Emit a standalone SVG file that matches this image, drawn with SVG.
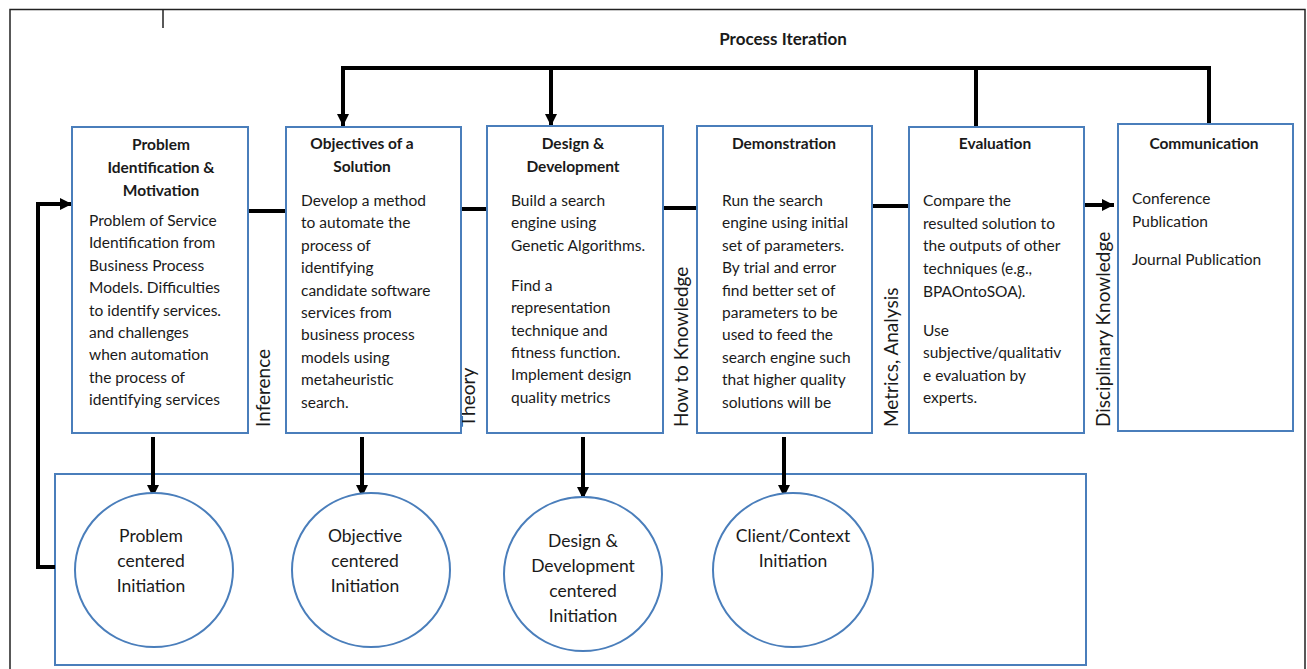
<svg xmlns="http://www.w3.org/2000/svg" width="1307" height="669" viewBox="0 0 1307 669">
  <style>
    .box { fill: #ffffff; stroke: #4a7ebb; stroke-width: 2; }
    .circ { fill: #ffffff; stroke: #4a7ebb; stroke-width: 2; }
    .frame { fill: none; stroke: #222222; stroke-width: 1.5; }
    .ln { fill: none; stroke: #000000; stroke-width: 4; }
    .t { font-family: Lato, "Open Sans", "Liberation Sans", sans-serif; font-size: 15.5px; fill: #1a1a1a; }
    .h { font-weight: bold; text-anchor: middle; }
    .c { font-size: 17.5px; text-anchor: middle; }
    .v { font-size: 19px; }
  </style>
  <defs>
    <marker id="ah" markerUnits="userSpaceOnUse" markerWidth="14" markerHeight="14" refX="12" refY="6" orient="auto">
      <path d="M0,0 L12,6 L0,12 Z" fill="#000000"/>
    </marker>
  </defs>

  <rect width="1307" height="669" fill="#ffffff"/>

  <!-- page frame -->
  <path class="frame" d="M10,669 V9.5 H1305 V669"/>
  <path class="frame" d="M163,9.5 V28"/>

  <!-- heading -->
  <text class="t h" x="783" y="45" style="font-size:17px">Process Iteration</text>

  <!-- bottom container -->
  <rect id="initiation-area" class="box" x="55" y="474" width="1031" height="191"/>

  <!-- connectors -->
  <g id="connectors">
    <path class="ln" d="M343,126 V68 H1209 V124"/>
    <path class="ln" d="M343,70 V126" marker-end="url(#ah)"/>
    <path class="ln" d="M551,68 V126" marker-end="url(#ah)"/>
    <path class="ln" d="M976,68 V126"/>
    <path class="ln" d="M248,211 H286"/>
    <path class="ln" d="M461,209 H487"/>
    <path class="ln" d="M663,208 H697"/>
    <path class="ln" d="M872,206 H909"/>
    <path class="ln" d="M1084,205 H1114" marker-end="url(#ah)"/>
    <path class="ln" d="M153,437 V497" marker-end="url(#ah)"/>
    <path class="ln" d="M362,437 V497" marker-end="url(#ah)"/>
    <path class="ln" d="M583,437 V499" marker-end="url(#ah)"/>
    <path class="ln" d="M784,437 V497" marker-end="url(#ah)"/>
    <path class="ln" d="M55,567 H38 V204 H72" marker-end="url(#ah)"/>
  </g>

  <!-- edge labels -->
  <g id="edge-labels">
    <text class="t v" transform="translate(270,427) rotate(-90)">Inference</text>
    <text class="t v" transform="translate(475,427) rotate(-90)">Theory</text>
    <text class="t v" transform="translate(688,427) rotate(-90)">How to Knowledge</text>
    <text class="t v" transform="translate(898,427) rotate(-90)">Metrics, Analysis</text>
    <text class="t v" transform="translate(1110,427) rotate(-90)">Disciplinary Knowledge</text>
  </g>

  <g id="problem-identification">
    <rect class="box" x="72" y="127" width="176" height="306"/>
    <text class="t h"><tspan x="161" y="150">Problem</tspan><tspan x="161" y="173">Identification &amp;</tspan><tspan x="161" y="196">Motivation</tspan></text>
    <text class="t">
      <tspan x="89" y="226">Problem of Service</tspan>
      <tspan x="89" y="248.4">Identification from</tspan>
      <tspan x="89" y="270.8">Business Process</tspan>
      <tspan x="89" y="293.2">Models. Difficulties</tspan>
      <tspan x="89" y="315.6">to identify services.</tspan>
      <tspan x="89" y="338">and challenges</tspan>
      <tspan x="89" y="360.4">when automation</tspan>
      <tspan x="89" y="382.8">the process of</tspan>
      <tspan x="89" y="405.2">identifying services</tspan>
    </text>
  </g>

  <g id="objectives">
    <rect class="box" x="286" y="127" width="175" height="306"/>
    <text class="t h"><tspan x="362" y="149">Objectives of a</tspan><tspan x="362" y="172">Solution</tspan></text>
    <text class="t">
      <tspan x="301" y="206">Develop a method</tspan>
      <tspan x="301" y="228.4">to automate the</tspan>
      <tspan x="301" y="250.8">process of</tspan>
      <tspan x="301" y="273.2">identifying</tspan>
      <tspan x="301" y="295.6">candidate software</tspan>
      <tspan x="301" y="318">services from</tspan>
      <tspan x="301" y="340.4">business process</tspan>
      <tspan x="301" y="362.8">models using</tspan>
      <tspan x="301" y="385.2">metaheuristic</tspan>
      <tspan x="301" y="407.6">search.</tspan>
    </text>
  </g>

  <g id="design-development">
    <rect class="box" x="487" y="126" width="176" height="307"/>
    <text class="t h"><tspan x="573" y="149">Design &amp;</tspan><tspan x="573" y="172">Development</tspan></text>
    <text class="t">
      <tspan x="511" y="206">Build a search</tspan>
      <tspan x="511" y="228.4">engine using</tspan>
      <tspan x="511" y="250.8">Genetic Algorithms.</tspan>
      <tspan x="511" y="290.7">Find a</tspan>
      <tspan x="511" y="313.1">representation</tspan>
      <tspan x="511" y="335.5">technique and</tspan>
      <tspan x="511" y="357.9">fitness function.</tspan>
      <tspan x="511" y="380.3">Implement design</tspan>
      <tspan x="511" y="402.7">quality metrics</tspan>
    </text>
  </g>

  <g id="demonstration">
    <rect class="box" x="697" y="126" width="175" height="307"/>
    <text class="t h" x="784" y="149">Demonstration</text>
    <text class="t">
      <tspan x="722" y="206">Run the search</tspan>
      <tspan x="722" y="228.4">engine using initial</tspan>
      <tspan x="722" y="250.8">set of parameters.</tspan>
      <tspan x="722" y="273.2">By trial and error</tspan>
      <tspan x="722" y="295.6">find better set of</tspan>
      <tspan x="722" y="318">parameters to be</tspan>
      <tspan x="722" y="340.4">used to feed the</tspan>
      <tspan x="722" y="362.8">search engine such</tspan>
      <tspan x="722" y="385.2">that higher quality</tspan>
      <tspan x="722" y="407.6">solutions will be</tspan>
    </text>
  </g>

  <g id="evaluation">
    <rect class="box" x="909" y="127" width="175" height="306"/>
    <text class="t h" x="995" y="149">Evaluation</text>
    <text class="t">
      <tspan x="923" y="206">Compare the</tspan>
      <tspan x="923" y="228.5">resulted solution to</tspan>
      <tspan x="923" y="251">the outputs of other</tspan>
      <tspan x="923" y="273.5">techniques (e.g.,</tspan>
      <tspan x="923" y="296.5">BPAOntoSOA).</tspan>
      <tspan x="923" y="336">Use</tspan>
      <tspan x="923" y="358.3">subjective/qualitativ</tspan>
      <tspan x="923" y="380.6">e evaluation by</tspan>
      <tspan x="923" y="403">experts.</tspan>
    </text>
  </g>

  <g id="communication">
    <rect class="box" x="1118" y="124" width="175" height="307"/>
    <text class="t h" x="1204" y="149">Communication</text>
    <text class="t">
      <tspan x="1132" y="204">Conference</tspan>
      <tspan x="1132" y="227">Publication</tspan>
      <tspan x="1132" y="265">Journal Publication</tspan>
    </text>
  </g>

  <g id="problem-centered">
    <ellipse class="circ" cx="154" cy="570" rx="79" ry="77"/>
    <text class="t c"><tspan x="151" y="542">Problem</tspan><tspan x="151" y="567">centered</tspan><tspan x="151" y="592">Initiation</tspan></text>
  </g>

  <g id="objective-centered">
    <ellipse class="circ" cx="371" cy="570" rx="79" ry="77"/>
    <text class="t c"><tspan x="365" y="542">Objective</tspan><tspan x="365" y="567">centered</tspan><tspan x="365" y="592">Initiation</tspan></text>
  </g>

  <g id="design-centered">
    <ellipse class="circ" cx="583" cy="574" rx="79" ry="77"/>
    <text class="t c"><tspan x="583" y="547">Design &amp;</tspan><tspan x="583" y="572">Development</tspan><tspan x="583" y="597">centered</tspan><tspan x="583" y="622">Initiation</tspan></text>
  </g>

  <g id="client-context">
    <ellipse class="circ" cx="793" cy="570" rx="80" ry="77"/>
    <text class="t c"><tspan x="793" y="542">Client/Context</tspan><tspan x="793" y="567">Initiation</tspan></text>
  </g>
</svg>
